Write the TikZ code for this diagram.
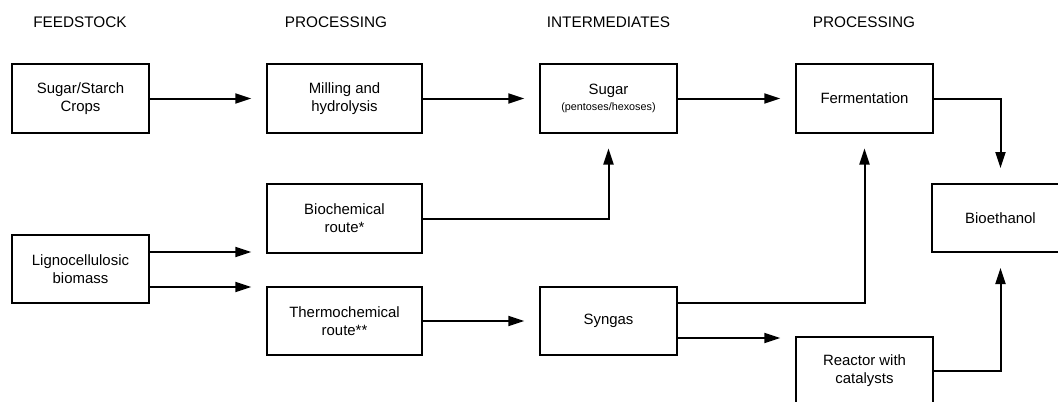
\documentclass[tikz,border=0pt]{standalone}
\usepackage{fontspec}
\setmainfont{Liberation Sans}
\usetikzlibrary{arrows.meta}
\begin{document}
\begin{tikzpicture}[x=0.75pt,y=-0.75pt,
  every node/.style={font=\fontsize{11.2}{13.5}\selectfont},
  box/.style={draw, line width=1.5pt, align=center, inner sep=0pt, minimum height=51.5pt},
  narrowbox/.style={box, minimum width=102.75pt},
  widebox/.style={box, minimum width=116.25pt},
  hdr/.style={font=\fontsize{11.5}{13.5}\selectfont},
  arr/.style={line width=1.5pt, -{Triangle[length=12pt,width=7.5pt]}, shorten >=11pt}
]
\useasboundingbox (0,0) rectangle (1058,401);
\clip (0,0) rectangle (1058,401);

% headers
\node[hdr] (h1) at (80,22) {FEEDSTOCK};
\node[hdr] (h2) at (336,22) {PROCESSING};
\node[hdr] (h3) at (608.5,22) {INTERMEDIATES};
\node[hdr] (h4) at (864,22) {PROCESSING};

% boxes
\node[narrowbox] (ss) at (80.5,98.5) {Sugar/Starch\\Crops};
\node[widebox] (mh) at (344.5,98.5) {Milling and\\hydrolysis};
\node[narrowbox] (sug) at (608.5,98.5) {Sugar\\[-1.5pt]{\fontsize{8.1}{9.5}\selectfont (pentoses/hexoses)}};
\node[narrowbox] (fer) at (864.5,98.5) {Fermentation};
\node[narrowbox] (bio) at (1000.5,218) {Bioethanol};
\node[widebox] (bc) at (344.5,218.5) {Biochemical\\route*};
\node[narrowbox] (lg) at (80.5,269) {Lignocellulosic\\biomass};
\node[widebox] (th) at (344.5,321) {Thermochemical\\route**};
\node[narrowbox] (syn) at (608.5,321) {Syngas};
\node[narrowbox] (rc) at (864.5,371) {Reactor with\\catalysts};

% connectors
\draw[arr] (ss) -- (mh);
\draw[arr] (mh) -- (sug);
\draw[arr] (sug) -- (fer);
\draw[arr] (fer.east) -| (bio.north);
\draw[arr] (bc.east) -| (sug.south);
\draw[arr] ([yshift=12.75pt]lg.east) coordinate (l1) -- (l1 -| bc.west);
\draw[arr] ([yshift=-13.5pt]lg.east) coordinate (l2) -- (l2 -| th.west);
\draw[arr] (th) -- (syn);
\draw[arr] ([yshift=13.5pt]syn.east) coordinate (s1) -| (fer.south);
\draw[arr] ([yshift=-12.75pt]syn.east) coordinate (s2) -- (s2 -| rc.west);
\draw[arr] (rc.east) -| (bio.south);
\end{tikzpicture}
\end{document}
